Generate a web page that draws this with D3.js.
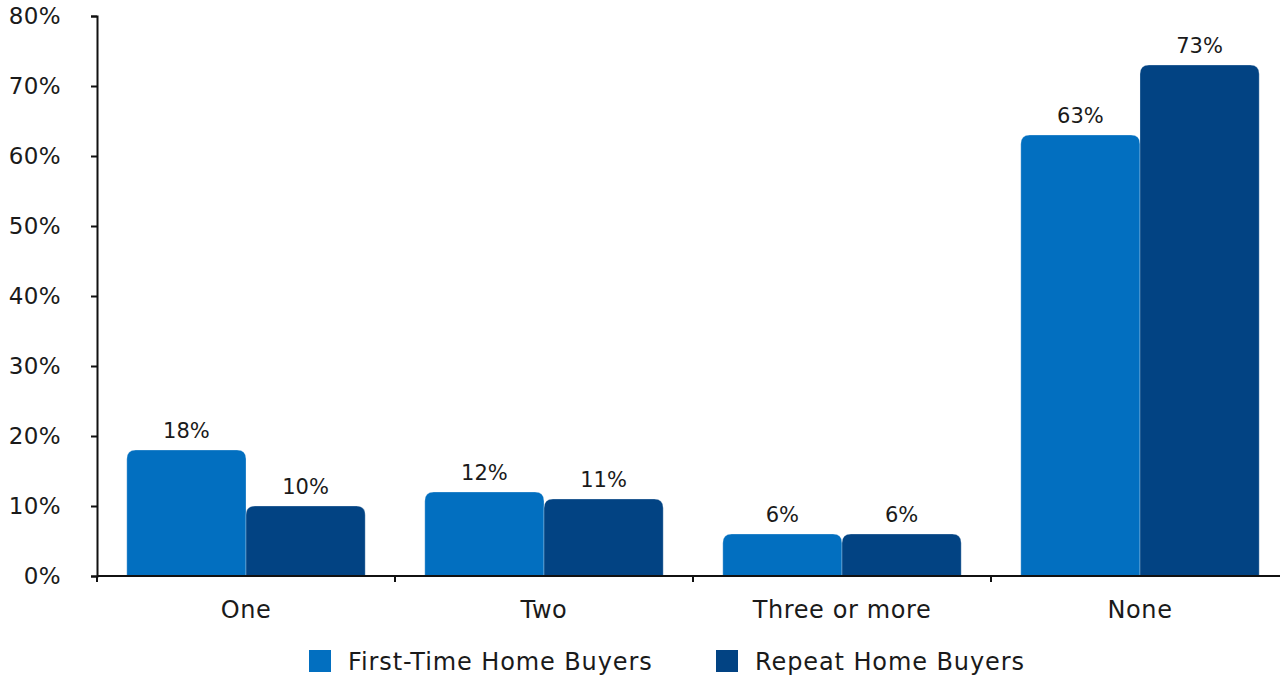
<!DOCTYPE html>
<html>
<head>
<meta charset="utf-8">
<script src="https://cdn.jsdelivr.net/npm/d3@7"></script>
<style>
	body { margin: 0; background: #fff; }
	svg text { font-family: "DejaVu Sans", sans-serif; fill: #1a1a1a; }
</style>
</head>
<body>
<svg id="chart" width="1280" height="677"></svg>
<script>
const categories = ["One", "Two", "Three or more", "None"];
const series = ["First-Time Home Buyers", "Repeat Home Buyers"];
const firstTime = [18, 12, 6, 63];
const repeat = [10, 11, 6, 73];
const yTicks = [0, 10, 20, 30, 40, 50, 60, 70, 80];
const colors = ["#026fc0", "#024383"];

const svg = d3.select("#chart");
const margin = {left: 97, right: 0, top: 16, bottom: 101};
const width = 1280 - margin.left - margin.right;
const height = 677 - margin.top - margin.bottom;

const g = svg.append("g")
	.attr("transform", "translate(" + margin.left + "," + margin.top + ")");

const x = d3.scaleBand()
	.domain(categories)
	.range([0, 298 * 4])
	.paddingInner(0.2)
	.paddingOuter(0.1);

const xInner = d3.scaleBand()
	.domain(series)
	.range([0, x.bandwidth()]);

const y = d3.scaleLinear()
	.domain([0, 80])
	.range([height, 0]);

const rows = categories.map((c, i) => ({cat: c, values: [firstTime[i], repeat[i]]}));

// bars with rounded top corners
function topRounded(x0, y0, w, h, r) {
	r = Math.min(r, h, w / 2);
	return "M" + x0 + "," + (y0 + h) +
		"V" + (y0 + r) +
		"Q" + x0 + "," + y0 + " " + (x0 + r) + "," + y0 +
		"H" + (x0 + w - r) +
		"Q" + (x0 + w) + "," + y0 + " " + (x0 + w) + "," + (y0 + r) +
		"V" + (y0 + h) + "Z";
}

const groups = g.selectAll(".grp")
	.data(rows)
	.enter()
	.append("g")
	.attr("transform", d => "translate(" + x(d.cat) + ",0)");

groups.selectAll("path")
	.data(d => d.values.map((v, i) => ({s: series[i], v: v, i: i})))
	.enter()
	.append("path")
	.attr("d", d => topRounded(xInner(d.s), y(d.v), xInner.bandwidth(), height - y(d.v), 9))
	.attr("fill", d => colors[d.i])
	.attr("stroke", "rgba(255,255,255,0.35)")
	.attr("stroke-width", 0.8);

groups.selectAll("text")
	.data(d => d.values.map((v, i) => ({s: series[i], v: v})))
	.enter()
	.append("text")
	.attr("x", d => xInner(d.s) + xInner.bandwidth() / 2)
	.attr("y", d => y(d.v) - 12)
	.attr("text-anchor", "middle")
	.style("font-size", "21px")
	.text(d => d.v + "%");

// y axis
const yAxis = d3.axisLeft(y)
	.tickValues(yTicks)
	.tickSize(6)
	.tickPadding(30)
	.tickFormat(d => d + "%");

g.append("g")
	.call(yAxis)
	.call(a => a.select(".domain").attr("stroke", "#111").attr("stroke-width", 2))
	.call(a => a.selectAll(".tick line").attr("stroke", "#111").attr("stroke-width", 2))
	.call(a => a.selectAll(".tick text").style("font-size", "23px").style("letter-spacing", "0.4px").attr("fill", "#1a1a1a"));

// x axis with ticks on band boundaries
const xAxisG = g.append("g")
	.attr("transform", "translate(0," + height + ")");

xAxisG.append("line")
	.attr("x1", 0)
	.attr("x2", width)
	.attr("stroke", "#111")
	.attr("stroke-width", 2);

const bounds = categories.map(c => Math.max(0, x(c) - x.step() * x.paddingInner() / 2));
xAxisG.selectAll(".xtick")
	.data(bounds)
	.enter()
	.append("line")
	.attr("x1", d => d)
	.attr("x2", d => d)
	.attr("y1", 0)
	.attr("y2", 6)
	.attr("stroke", "#111")
	.attr("stroke-width", 2);

xAxisG.selectAll(".xlabel")
	.data(categories)
	.enter()
	.append("text")
	.attr("x", d => x(d) + x.bandwidth() / 2)
	.attr("y", 42)
	.attr("text-anchor", "middle")
	.style("font-size", "24px")
	.style("letter-spacing", "0.6px")
	.text(d => d);

// legend
const legendPos = [309, 716];
const legend = svg.append("g")
	.attr("transform", "translate(0,650)");

legend.selectAll("rect")
	.data(series)
	.enter()
	.append("rect")
	.attr("x", (d, i) => legendPos[i])
	.attr("y", 0)
	.attr("width", 22)
	.attr("height", 22)
	.attr("fill", (d, i) => colors[i]);

legend.selectAll("text")
	.data(series)
	.enter()
	.append("text")
	.attr("x", (d, i) => legendPos[i] + 39)
	.attr("y", 20)
	.style("font-size", "24px")
	.style("letter-spacing", "0.9px")
	.text(d => d);
</script>
</body>
</html>
